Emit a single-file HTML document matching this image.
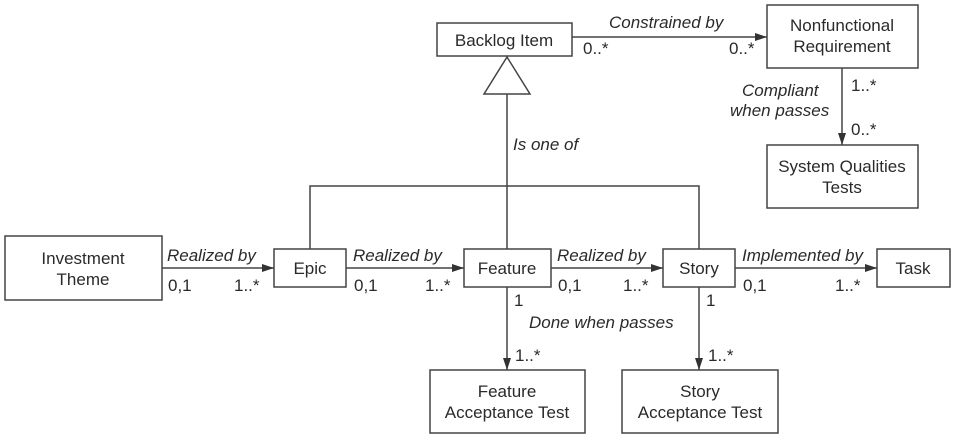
<!DOCTYPE html>
<html><head><meta charset="utf-8"><style>
html,body{margin:0;padding:0;background:#fff;}
svg{display:block}
text{font-family:"Liberation Sans Narrow","Liberation Sans",sans-serif;font-size:17px;fill:#2a2a2a}
.i{font-style:italic}
</style></head><body>
<svg width="958" height="437" viewBox="0 0 958 437" xmlns="http://www.w3.org/2000/svg">
<defs><marker id="a" markerWidth="12" markerHeight="8" refX="12" refY="4" orient="auto" markerUnits="userSpaceOnUse"><path d="M0,0 L12,4 L0,8 z" fill="#333"/></marker></defs>
<g fill="none" stroke="#444" stroke-width="1.5">
<rect x="437" y="23" width="135" height="33"/>
<rect x="767" y="5" width="151" height="63"/>
<rect x="767" y="145" width="151" height="63"/>
<rect x="5" y="236" width="157" height="64"/>
<rect x="274" y="249" width="72" height="38"/>
<rect x="464" y="249" width="87" height="38"/>
<rect x="663" y="249" width="72" height="38"/>
<rect x="877" y="249" width="73" height="38"/>
<rect x="430" y="370" width="155" height="63"/>
<rect x="622" y="370" width="156" height="63"/>
<polygon points="507,57 484,94 530,94"/>
<line x1="507" y1="94" x2="507" y2="249"/>
<polyline points="310,249 310,186 699,186 699,249"/>
<line x1="572" y1="37" x2="767" y2="37" marker-end="url(#a)"/>
<line x1="842" y1="68" x2="842" y2="145" marker-end="url(#a)"/>
<line x1="162" y1="268" x2="274" y2="268" marker-end="url(#a)"/>
<line x1="346" y1="268" x2="464" y2="268" marker-end="url(#a)"/>
<line x1="551" y1="268" x2="663" y2="268" marker-end="url(#a)"/>
<line x1="735" y1="268" x2="877" y2="268" marker-end="url(#a)"/>
<line x1="507" y1="287" x2="507" y2="370" marker-end="url(#a)"/>
<line x1="699" y1="287" x2="699" y2="370" marker-end="url(#a)"/>
</g>
<g text-anchor="middle">
<text x="504" y="46">Backlog Item</text>
<text x="842" y="31">Nonfunctional</text>
<text x="842" y="52">Requirement</text>
<text x="842" y="172">System Qualities</text>
<text x="842" y="193">Tests</text>
<text x="83" y="264">Investment</text>
<text x="83" y="285">Theme</text>
<text x="310" y="274">Epic</text>
<text x="507" y="274">Feature</text>
<text x="699" y="274">Story</text>
<text x="913" y="274">Task</text>
<text x="507" y="397">Feature</text>
<text x="507" y="418">Acceptance Test</text>
<text x="700" y="397">Story</text>
<text x="700" y="418">Acceptance Test</text>
</g>
<g>
<text class="i" x="609" y="28">Constrained by</text>
<text class="i" x="742" y="96">Compliant</text>
<text class="i" x="730" y="116">when passes</text>
<text class="i" x="513" y="150">Is one of</text>
<text class="i" x="167" y="261">Realized by</text>
<text class="i" x="353" y="261">Realized by</text>
<text class="i" x="557" y="261">Realized by</text>
<text class="i" x="742" y="261">Implemented by</text>
<text class="i" x="529" y="328">Done when passes</text>
</g>
<g>
<text x="583" y="54">0..*</text>
<text x="729" y="54">0..*</text>
<text x="851" y="91">1..*</text>
<text x="851" y="135">0..*</text>
<text x="168" y="291">0,1</text>
<text x="234" y="291">1..*</text>
<text x="354" y="291">0,1</text>
<text x="425" y="291">1..*</text>
<text x="558" y="291">0,1</text>
<text x="623" y="291">1..*</text>
<text x="743" y="291">0,1</text>
<text x="835" y="291">1..*</text>
<text x="514" y="306">1</text>
<text x="706" y="306">1</text>
<text x="515" y="361">1..*</text>
<text x="708" y="361">1..*</text>
</g>
</svg>
</body></html>
